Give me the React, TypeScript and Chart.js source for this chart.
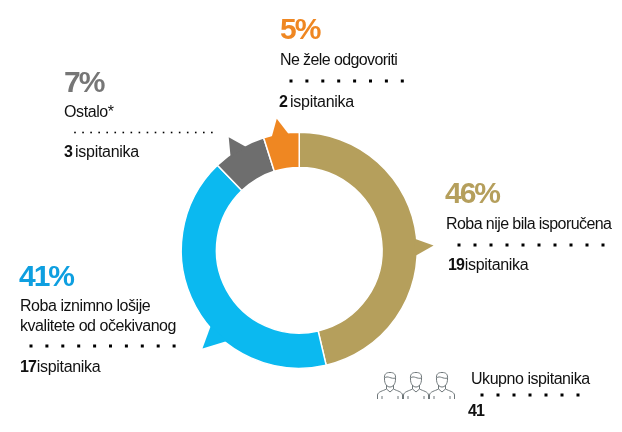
import { useEffect, useRef } from 'react';
import { Chart, registerables } from 'chart.js';

Chart.register(...registerables);

const categories = ['Roba nije bila isporučena', 'Roba iznimno lošije kvalitete od očekivanog', 'Ostalo*', 'Ne žele odgovoriti'];
const respondents = [19, 17, 3, 2];
const percentLabels = ['46%', '41%', '7%', '5%'];
const countLabels = ['19', '17', '3', '2'];
const sliceColors = ['#B59F5C', '#0BB9F0', '#6E6E6E', '#EF8722'];
const percentColors = ['#B59F5C', '#0E9FE0', '#767676', '#EF8722'];
const respondentWord = 'ispitanika';
const totalLabel = 'Ukupno ispitanika';
const totalValue = '41';

// label placement, one entry per slice
const callouts = [
  { x: 445, pctY: 203, lines: [[446, 229]], spacing: '-0.57px', dots: [459, 245, 16, 10, 3], countX: 448, countY: 270 },
  { x: 19, pctY: 286, lines: [[20, 311], [20, 331]], spacing: '-0.45px', dots: [31, 346, 15.9, 10, 3], countX: 20, countY: 372 },
  { x: 64, pctY: 92, lines: [[64, 117]], spacing: '-0.4px', dots: [75, 132.5, 8.05, 18, 1.6], countX: 64, countY: 157 },
  { x: 280, pctY: 39, lines: [[280, 65]], spacing: '-0.6px', dots: [291, 81, 15.9, 8, 3], countX: 279, countY: 107 },
];

// callout tails: clock angles in degrees, tip radius as multiple of outer radius
const tails = [
  { a0: 84.3, a1: 92.9, tip: 88, r: 1.139 },
  { a0: 218.5, a1: 229.6, tip: 224.6, r: 1.168 },
  { a0: 323.7, a1: 332.8, tip: 328, r: 1.128 },
  { a0: 346.2, a1: 355, tip: 350.3, r: 1.131 },
];

const person = (ctx: CanvasRenderingContext2D, x: number, y: number) => {
  ctx.save();
  ctx.translate(x, y);
  ctx.strokeStyle = '#6f777a';
  ctx.lineWidth = 1;
  ctx.beginPath();
  // head
  ctx.moveTo(7.5, 6);
  ctx.bezierCurveTo(7, 1, 9, -0.5, 13, -0.5);
  ctx.bezierCurveTo(17, -0.5, 19, 1, 18.5, 6);
  ctx.bezierCurveTo(18.5, 11, 16, 14, 13, 14);
  ctx.bezierCurveTo(10, 14, 7.5, 11, 7.5, 6);
  // hair line
  ctx.moveTo(7.5, 5);
  ctx.bezierCurveTo(11, 2, 14, 6.5, 18.5, 5);
  // neck
  ctx.moveTo(9.5, 12);
  ctx.lineTo(9.5, 16);
  ctx.lineTo(13, 19);
  ctx.lineTo(16.5, 16);
  ctx.lineTo(16.5, 12);
  // shoulders
  ctx.moveTo(0.5, 26);
  ctx.lineTo(0.5, 22);
  ctx.bezierCurveTo(1, 18.5, 6, 18, 9.5, 16);
  ctx.moveTo(25.5, 26);
  ctx.lineTo(25.5, 22);
  ctx.bezierCurveTo(25, 18.5, 20, 18, 16.5, 16);
  ctx.moveTo(5, 26);
  ctx.lineTo(5, 23);
  ctx.moveTo(21, 26);
  ctx.lineTo(21, 23);
  ctx.stroke();
  ctx.restore();
};

const dotRow = (ctx: CanvasRenderingContext2D, x: number, y: number, step: number, n: number, size: number) => {
  ctx.fillStyle = '#000';
  for (let i = 0; i < n; i++) {
    ctx.fillRect(x + i * step - size / 2, y - size / 2, size, size);
  }
};

const text = (ctx: CanvasRenderingContext2D, s: string, x: number, y: number, font: string, color: string, spacing: string) => {
  ctx.font = font;
  ctx.fillStyle = color;
  (ctx as any).letterSpacing = spacing;
  ctx.fillText(s, x, y);
  const w = ctx.measureText(s).width;
  return x + w;
};

const tailPlugin = {
  id: 'tails',
  afterDatasetsDraw(chart: any) {
    const arcs = chart.getDatasetMeta(0).data;
    const ctx: CanvasRenderingContext2D = chart.ctx;
    tails.forEach((t, i) => {
      const { x, y, outerRadius } = arcs[i];
      const pt = (deg: number, r: number): [number, number] => {
        const rad = ((deg - 90) * Math.PI) / 180;
        return [x + Math.cos(rad) * r, y + Math.sin(rad) * r];
      };
      ctx.fillStyle = sliceColors[i];
      ctx.beginPath();
      ctx.moveTo(...pt(t.a0, outerRadius - 2));
      ctx.lineTo(...pt(t.tip, outerRadius * t.r));
      ctx.lineTo(...pt(t.a1, outerRadius - 2));
      ctx.closePath();
      ctx.fill();
    });
  },
};

const labelPlugin = {
  id: 'labels',
  afterDraw(chart: any) {
    const ctx: CanvasRenderingContext2D = chart.ctx;
    const face = '"Liberation Sans", Arial, sans-serif';
    ctx.save();
    ctx.textBaseline = 'alphabetic';
    callouts.forEach((c, i) => {
      text(ctx, percentLabels[i], c.x, c.pctY, `bold 30px ${face}`, percentColors[i], '-2px');
      const parts = i === 1 ? ['Roba iznimno lošije', 'kvalitete od očekivanog'] : [categories[i]];
      parts.forEach((p, k) => {
        text(ctx, p, c.lines[k][0], c.lines[k][1], `16px ${face}`, '#111', c.spacing);
      });
      const [dx, dy, step, n, size] = c.dots;
      dotRow(ctx, dx, dy, step, n, size);
      const end = text(ctx, countLabels[i], c.countX, c.countY, `bold 16px ${face}`, '#111', '-0.8px');
      const gap = countLabels[i].length === 1 ? 3 : 0.5;
      text(ctx, respondentWord, end + gap, c.countY, `16px ${face}`, '#111', '-0.3px');
    });
    text(ctx, totalLabel, 471, 384, `16px ${face}`, '#111', '-0.45px');
    dotRow(ctx, 482, 395, 16, 7, 3);
    text(ctx, totalValue, 468, 416, `bold 16px ${face}`, '#111', '-0.8px');
    (ctx as any).letterSpacing = '0px';
    [377, 403, 429].forEach((x) => person(ctx, x, 373));
    ctx.restore();
  },
};

export default function App() {
  const canvasRef = useRef<HTMLCanvasElement>(null);

  useEffect(() => {
    if (!canvasRef.current) return;
    const chart = new Chart(canvasRef.current, {
      type: 'doughnut',
      data: {
        labels: categories,
        datasets: [
          {
            data: respondents,
            backgroundColor: sliceColors,
            borderColor: '#fff',
            borderWidth: 1.5,
          },
        ],
      },
      options: {
        responsive: false,
        animation: false,
        cutout: '70.2%',
        layout: { padding: { left: 180.5, right: 204, top: 131.5, bottom: 63 } },
        plugins: {
          legend: { display: false },
          tooltip: { enabled: false },
        },
      },
      plugins: [tailPlugin, labelPlugin],
    });

    return () => {
      chart.destroy();
    };
  }, []);

  return (
    <div style={{ position: 'absolute', left: 0, top: 0, width: 622, height: 432, background: '#fff' }}>
      <canvas ref={canvasRef} width={622} height={432} style={{ display: 'block' }}></canvas>
    </div>
  );
}
